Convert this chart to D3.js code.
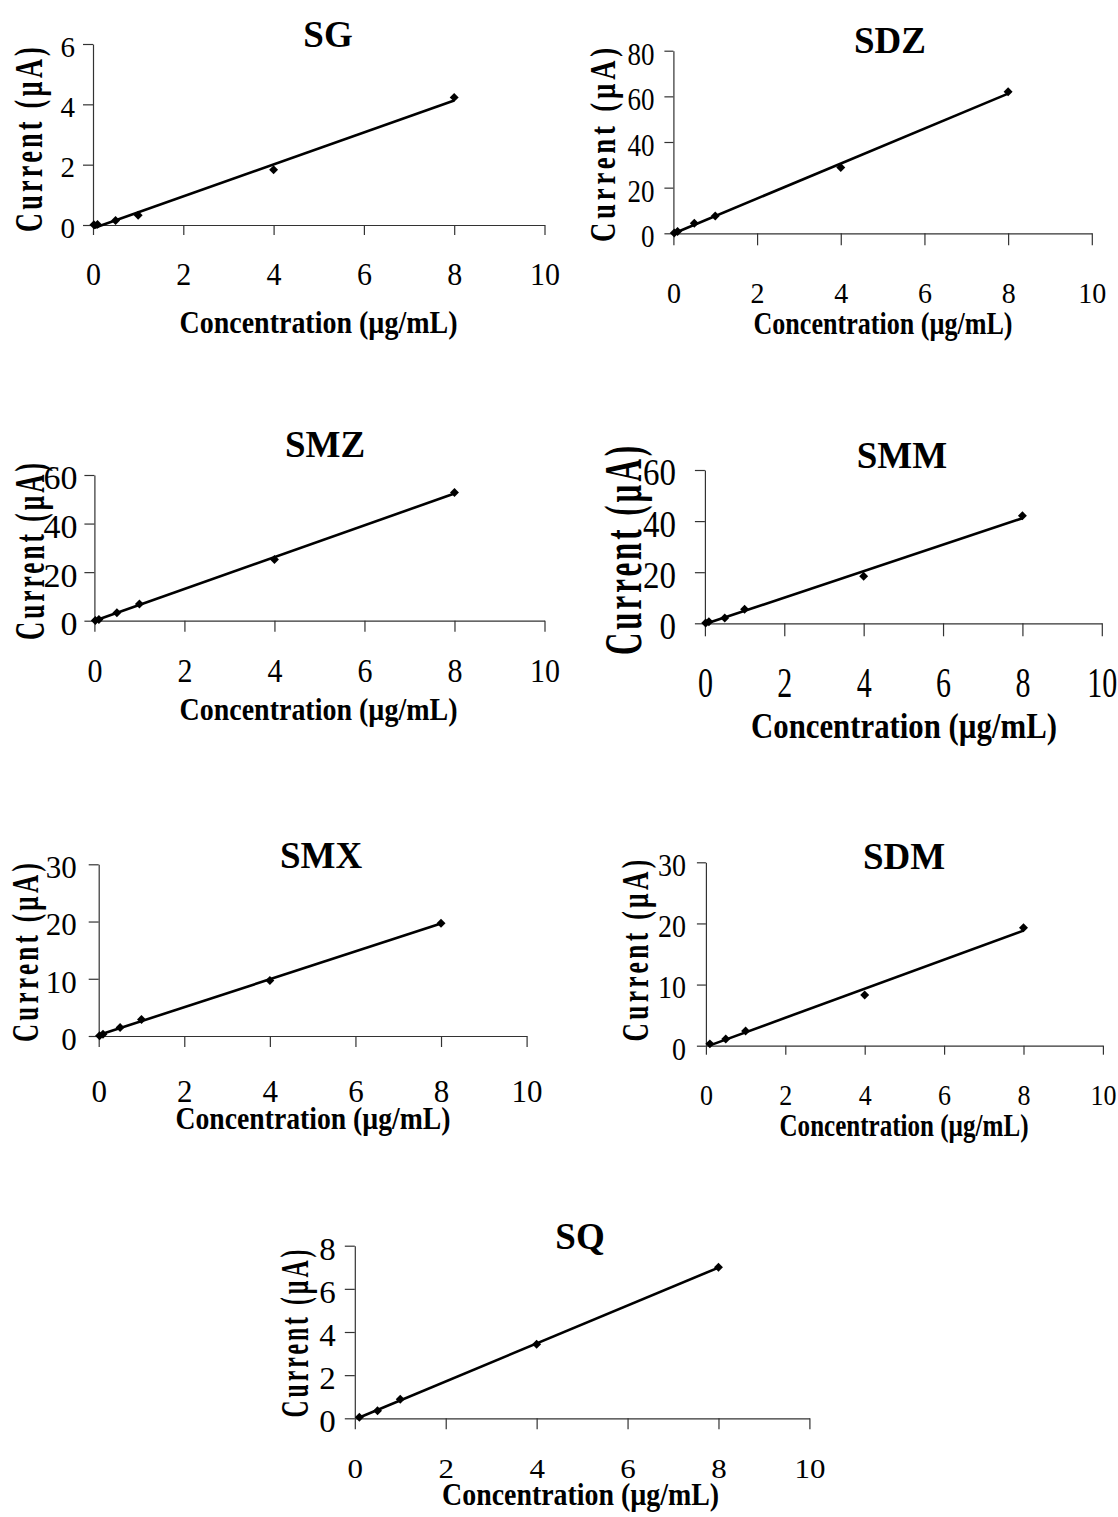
<!DOCTYPE html>
<html>
<head>
<meta charset="utf-8">
<script src="https://cdn.jsdelivr.net/npm/d3@7"></script>
<style>
  html, body { margin: 0; padding: 0; background: #fff; }
  svg { display: block; }
</style>
</head>
<body>
<script>
// Calibration data: concentration (µg/mL) vs. peak current (µA) for each sulfonamide
const xTicks = [0, 2, 4, 6, 8, 10];

const conc_SG = [0.02, 0.1, 0.5, 1, 4, 8];
const current_SG = [0.01, 0.02, 0.15, 0.32, 1.83, 4.23];
const yTicks_SG = [0, 2, 4, 6];

const conc_SDZ = [0.02, 0.1, 0.5, 1, 4, 8];
const current_SDZ = [0.1, 0.8, 4.4, 7.6, 28.8, 62.0];
const yTicks_SDZ = [0, 20, 40, 60, 80];

const conc_SMZ = [0.02, 0.1, 0.5, 1, 4, 8];
const current_SMZ = [0.1, 0.5, 3.3, 6.9, 25.2, 52.8];
const yTicks_SMZ = [0, 20, 40, 60];

const conc_SMM = [0.02, 0.1, 0.5, 1, 4, 8];
const current_SMM = [0.1, 0.6, 2.1, 5.5, 18.4, 42.1];
const yTicks_SMM = [0, 20, 40, 60];

const conc_SMX = [0.02, 0.1, 0.5, 1, 4, 8];
const current_SMX = [0.05, 0.3, 1.5, 2.9, 9.7, 19.7];
const yTicks_SMX = [0, 10, 20, 30];

const conc_SDM = [0.1, 0.5, 1, 4, 8];
const current_SDM = [0.3, 1.1, 2.4, 8.3, 19.3];
const yTicks_SDM = [0, 10, 20, 30];

const conc_SQ = [0.1, 0.5, 1, 4, 8];
const current_SQ = [0.05, 0.35, 0.88, 3.43, 7.0];
const yTicks_SQ = [0, 2, 4, 6, 8];

const xTitle = "Concentration (µg/mL)";
const yTitle = "Current (µA)";

// Panel placement and text sizing (fs = font size, k = vertical stretch of tick digits)
const panels = [
  { name: "SG", xs: conc_SG, ys: current_SG, yTicks: yTicks_SG,
    left: 93, right: 544.5, bottom: 225, top: 44,
    xTick: 10, yTick: 10, xLblY: 285, xFs: 30, xK: 1.08, yLblGap: 18, yFs: 29, yK: 1.0,
    title: [328, 47], xt: [318.5, 333, 278, 31], yt: [42, 138, 188, 40] },
  { name: "SDZ", xs: conc_SDZ, ys: current_SDZ, yTicks: yTicks_SDZ,
    left: 673.4, right: 1091.8, bottom: 233.3, top: 50.7,
    xTick: 12, yTick: 9, xLblY: 303, xFs: 28, xK: 1.06, yLblGap: 19, yFs: 27, yK: 1.2,
    title: [890, 53], xt: [883, 334, 259, 31], yt: [615, 143, 198, 35] },
  { name: "SMZ", xs: conc_SMZ, ys: current_SMZ, yTicks: yTicks_SMZ,
    left: 94.4, right: 544.5, bottom: 620.7, top: 475,
    xTick: 11, yTick: 10, xLblY: 682, xFs: 30, xK: 1.13, yLblGap: 17, yFs: 34, yK: 1.0,
    title: [325, 457], xt: [318.5, 720, 278, 31], yt: [44, 550, 180, 42] },
  { name: "SMM", xs: conc_SMM, ys: current_SMM, yTicks: yTicks_SMM,
    left: 704.9, right: 1101.8, bottom: 623.3, top: 470,
    xTick: 13, yTick: 10, xLblY: 697, xFs: 30, xK: 1.38, yLblGap: 29, yFs: 33, yK: 1.12,
    title: [902, 468], xt: [904, 738, 306, 35], yt: [641, 549, 212, 52] },
  { name: "SMX", xs: conc_SMX, ys: current_SMX, yTicks: yTicks_SMX,
    left: 98.7, right: 526.6, bottom: 1036, top: 864.3,
    xTick: 11, yTick: 10, xLblY: 1101.7, xFs: 31, xK: 1.0, yLblGap: 22, yFs: 31, yK: 1.03,
    title: [321, 868], xt: [313, 1129, 275, 31], yt: [38, 951, 182, 38] },
  { name: "SDM", xs: conc_SDM, ys: current_SDM, yTicks: yTicks_SDM,
    left: 705.9, right: 1102.9, bottom: 1045.7, top: 862.3,
    xTick: 9, yTick: 9, xLblY: 1105, xFs: 26, xK: 1.15, yLblGap: 20, yFs: 28, yK: 1.15,
    title: [904, 869], xt: [904, 1136, 249, 31], yt: [648, 949, 185, 38] },
  { name: "SQ", xs: conc_SQ, ys: current_SQ, yTicks: yTicks_SQ,
    left: 354.8, right: 809.4, bottom: 1418.3, top: 1245.7,
    xTick: 11, yTick: 10, xLblY: 1478, xFs: 31, xK: 0.88, yLblGap: 19, yFs: 33, yK: 0.97,
    title: [580, 1249], xt: [580.6, 1505, 277, 31], yt: [308, 1332, 171, 39] }
];

const FONT = '"Liberation Serif", "Times New Roman", Times, serif';
const AXIS_COLOR = "#333";

const svg = d3.select("body").append("svg")
  .attr("width", 1118).attr("height", 1517)
  .attr("viewBox", "0 0 1118 1517");

svg.append("rect").attr("width", 1118).attr("height", 1517).attr("fill", "#fff");

// Least-squares fit used for the calibration trendline
function linearFit(xs, ys) {
  const mx = d3.mean(xs), my = d3.mean(ys);
  let sxy = 0, sxx = 0;
  xs.forEach((xv, i) => { sxy += (xv - mx) * (ys[i] - my); sxx += (xv - mx) ** 2; });
  const slope = sxy / sxx;
  return { slope, intercept: my - slope * mx };
}

function drawPanel(p) {
  const yMax = d3.max(p.yTicks);
  const x = d3.scaleLinear().domain([0, 10]).range([p.left, p.right]);
  const y = d3.scaleLinear().domain([0, yMax]).range([p.bottom, p.top]);
  const g = svg.append("g").attr("class", "panel-" + p.name);

  // X axis with ticks hanging below and labels set well beneath
  const xa = g.append("g")
    .attr("transform", `translate(0,${p.bottom})`)
    .call(d3.axisBottom(x).tickValues(xTicks).tickSize(p.xTick).tickSizeOuter(0).tickFormat(d3.format("d")));
  xa.attr("font-family", FONT).attr("font-size", p.xFs);
  xa.selectAll("path, line").attr("stroke", AXIS_COLOR).attr("stroke-width", 1.2);
  xa.selectAll("text")
    .attr("y", 0).attr("dy", 0).attr("fill", "#000")
    .attr("transform", `translate(0,${p.xLblY - p.bottom}) scale(1,${p.xK})`);

  // Y axis
  const ya = g.append("g")
    .attr("transform", `translate(${p.left},0)`)
    .call(d3.axisLeft(y).tickValues(p.yTicks).tickSize(p.yTick).tickSizeOuter(0).tickFormat(d3.format("d")));
  ya.attr("font-family", FONT).attr("font-size", p.yFs);
  ya.selectAll("path, line").attr("stroke", AXIS_COLOR).attr("stroke-width", 1.2);
  ya.selectAll("text")
    .attr("x", 0).attr("dy", 0).attr("fill", "#000")
    .attr("transform", `translate(${-p.yLblGap},${0.338 * p.yFs * p.yK + 2.5}) scale(1,${p.yK})`);

  // Trendline across the measured concentration range
  const fit = linearFit(p.xs, p.ys);
  const ext = d3.extent(p.xs);
  const line = d3.line().x(d => x(d)).y(d => y(fit.intercept + fit.slope * d));
  g.append("path")
    .datum(ext)
    .attr("d", line)
    .attr("fill", "none")
    .attr("stroke", "#000")
    .attr("stroke-width", 2.6);

  // Diamond markers for the measured points
  const sym = d3.symbol().type(d3.symbolSquare).size(40);
  g.selectAll("path.pt")
    .data(p.xs.map((xv, i) => [xv, p.ys[i]]))
    .join("path")
    .attr("class", "pt")
    .attr("d", sym)
    .attr("transform", d => `translate(${x(d[0])},${y(d[1])}) rotate(45)`)
    .attr("fill", "#000");

  // Panel title
  g.append("text")
    .attr("x", p.title[0]).attr("y", p.title[1])
    .attr("text-anchor", "middle")
    .attr("font-family", FONT).attr("font-weight", "bold").attr("font-size", 37)
    .text(p.name);

  // X axis title
  g.append("text")
    .attr("x", p.xt[0]).attr("y", p.xt[1])
    .attr("text-anchor", "middle")
    .attr("font-family", FONT).attr("font-weight", "bold").attr("font-size", p.xt[3])
    .attr("textLength", p.xt[2]).attr("lengthAdjust", "spacingAndGlyphs")
    .text(xTitle);

  // Y axis title (rotated, spaced letters)
  g.append("text")
    .attr("transform", `translate(${p.yt[0]},${p.yt[1]}) rotate(-90)`)
    .attr("text-anchor", "middle")
    .attr("font-family", FONT).attr("font-weight", "bold").attr("font-size", p.yt[3])
    .attr("letter-spacing", 5)
    .attr("textLength", p.yt[2]).attr("lengthAdjust", "spacingAndGlyphs")
    .text(yTitle);
}

panels.forEach(drawPanel);
</script>
</body>
</html>
